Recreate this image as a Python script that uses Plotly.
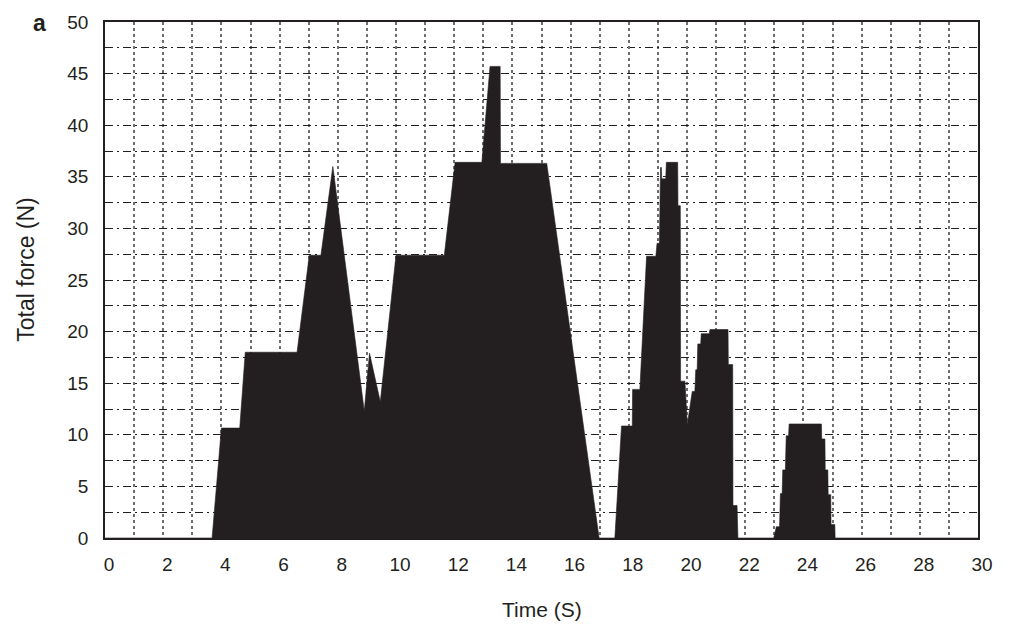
import plotly.graph_objects as go

# Vertices of the total-force trace (time in s, force in N)
time_s = [
    0.0, 3.68, 4.00, 4.63, 4.82, 6.60, 7.02, 7.42, 7.83, 8.91, 9.09, 9.46,
    10.00, 11.66, 12.03, 12.95, 13.23, 13.58, 13.59, 15.18, 16.98,
    17.52, 17.75, 18.12, 18.13, 18.38, 18.61, 18.93, 18.97, 19.05, 19.09,
    19.12, 19.13, 19.27, 19.29, 19.68, 19.69, 19.77, 19.78, 19.93, 20.01,
    20.18, 20.27, 20.30, 20.35, 20.37, 20.47, 20.49, 20.76, 20.79, 21.41,
    21.42, 21.57, 21.58, 21.72, 21.75,
    22.98, 23.07, 23.18, 23.21, 23.27, 23.29, 23.38, 23.41, 23.49, 23.51,
    24.62, 24.63, 24.74, 24.75, 24.84, 24.85, 24.94, 24.95, 25.08, 25.09,
    30.0,
]
force_n = [
    0.0, 0.0, 10.65, 10.65, 18.0, 18.0, 27.4, 27.4, 36.0, 12.3, 17.9, 13.2,
    27.4, 27.4, 36.4, 36.4, 45.7, 45.7, 36.3, 36.3, 0.0,
    0.0, 10.85, 10.85, 14.4, 14.4, 27.3, 27.3, 28.55, 28.55, 35.9,
    35.9, 34.8, 34.8, 36.4, 36.4, 32.2, 32.2, 15.2, 15.2, 11.0,
    14.2, 14.2, 16.3, 16.3, 18.8, 18.8, 19.8, 19.8, 20.2, 20.2,
    16.8, 16.8, 3.15, 3.15, 0.0,
    0.0, 1.1, 1.1, 4.3, 4.3, 6.6, 6.6, 9.9, 9.9, 11.05,
    11.05, 9.6, 9.6, 6.6, 6.6, 4.2, 4.2, 1.3, 1.3, 0.0,
    0.0,
]

x_ticks = list(range(0, 31, 2))
y_ticks = list(range(0, 51, 5))

FONT = "Liberation Sans, Arial, sans-serif"
INK = "#231f20"
GRID_V = "#6e6e6e"

fig = go.Figure()
fig.add_trace(go.Scatter(
    x=time_s, y=force_n, mode="lines",
    line=dict(color=INK, width=0.6),
    fill="tozeroy", fillcolor=INK,
    hoverinfo="x+y", showlegend=False,
))

fig.update_xaxes(
    range=[0, 30], tickvals=x_ticks, ticks="",
    showline=True, mirror=True, linecolor=INK, linewidth=1.5,
    showgrid=True, gridcolor=GRID_V, gridwidth=1.8, griddash="dot",
    minor=dict(dtick=1, tick0=0, showgrid=True, gridcolor=GRID_V,
               gridwidth=1.8, griddash="dot"),
    zeroline=False,
    tickfont=dict(family=FONT, size=19, color=INK),
    ticklabelstandoff=8, ticklabelshift=4,
)
fig.update_yaxes(
    range=[0, 50], tickvals=y_ticks, ticks="",
    showline=True, mirror=True, linecolor=INK, linewidth=1.5,
    showgrid=True, gridcolor=INK, gridwidth=1, griddash="8px,4px,2px,4px",
    minor=dict(dtick=2.5, tick0=0, showgrid=True, gridcolor=INK,
               gridwidth=1, griddash="8px,4px,2px,4px"),
    zeroline=False,
    tickfont=dict(family=FONT, size=19, color=INK),
    ticklabelstandoff=11,
)

fig.update_layout(
    width=1011, height=628,
    margin=dict(l=105, r=33, t=18, b=90),
    paper_bgcolor="white", plot_bgcolor="white",
    font=dict(family=FONT, color=INK),
    annotations=[
        dict(text="Time (S)", xref="paper", yref="paper", x=0.5, y=-0.1385,
             xanchor="center", yanchor="middle", showarrow=False,
             font=dict(family=FONT, size=21, color=INK)),
        dict(text="Total force (N)", xref="paper", yref="paper", x=-0.0905,
             y=0.52, xanchor="center", yanchor="middle", textangle=-90,
             showarrow=False, font=dict(family=FONT, size=23, color=INK)),
        dict(text="<b>a</b>", xref="paper", yref="paper", x=-0.0745, y=0.998,
             xanchor="center", yanchor="middle", showarrow=False,
             font=dict(family=FONT, size=23, color=INK)),
    ],
)

fig.write_html("out.html")
